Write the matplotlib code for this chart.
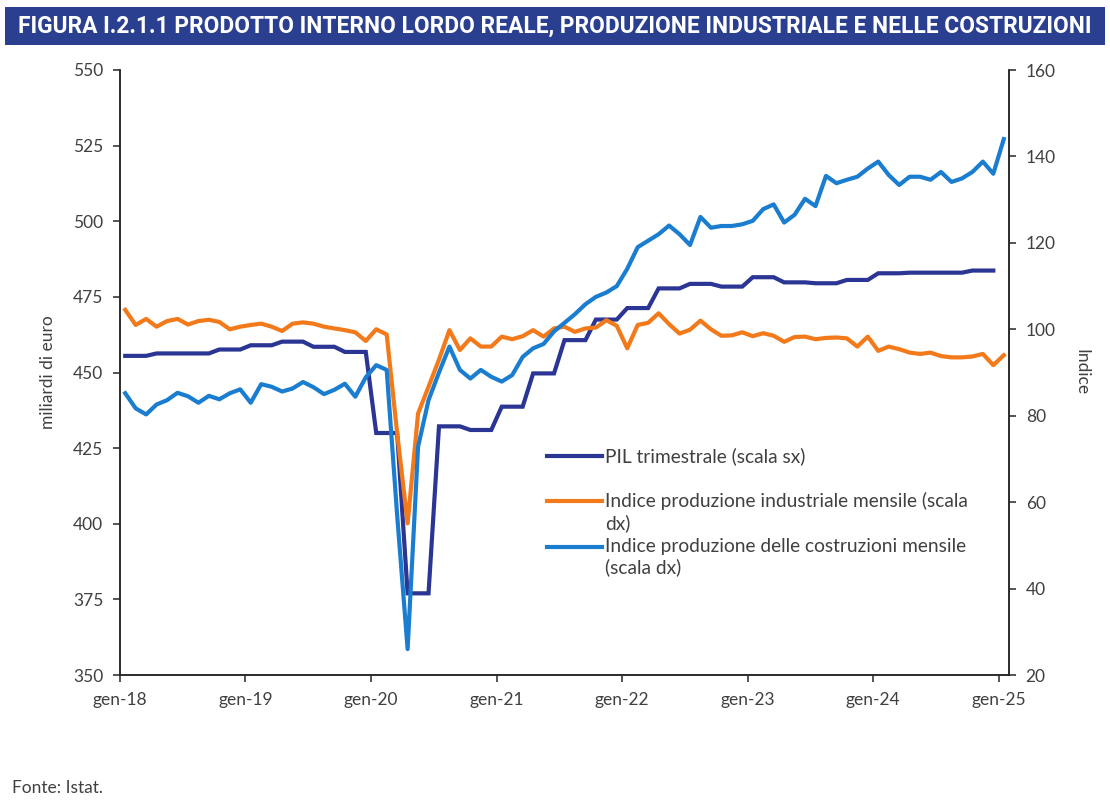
import numpy as np
import matplotlib.pyplot as plt
from matplotlib import font_manager
from matplotlib.patches import Rectangle
from matplotlib.lines import Line2D

# PIL trimestrale (miliardi di euro), 2018Q1 - 2024Q4
pil_trim = [455.5, 456.3, 456.3, 457.6, 459.0, 460.2, 458.5, 456.8,
            430.0, 377.0, 432.2, 431.0, 438.7, 449.7, 460.7, 467.5,
            471.3, 477.8, 479.3, 478.4, 481.5, 479.8, 479.5, 480.6,
            482.8, 483.0, 483.0, 483.7]

# Indice produzione industriale mensile, gen-18 - gen-25
ind_industria = [104.5, 101.0, 102.4, 100.6, 101.9, 102.4, 101.1, 101.9, 102.2, 101.7, 100.0, 100.6,
                 101.0, 101.3, 100.6, 99.6, 101.3, 101.6, 101.3, 100.6, 100.2, 99.8, 99.3, 97.3,
                 100.0, 98.8, 76.0, 55.1, 80.5, 86.7, 93.0, 99.8, 95.2, 97.9, 96.0, 96.0,
                 98.3, 97.7, 98.4, 99.8, 98.3, 100.2, 100.6, 99.4, 100.2, 100.4, 102.1, 100.8,
                 95.6, 101.0, 101.5, 103.7, 101.2, 99.0, 99.9, 102.0, 100.0, 98.5, 98.6, 99.3,
                 98.4, 99.1, 98.5, 97.1, 98.2, 98.3, 97.7, 98.0, 98.1, 97.9, 96.0, 98.3,
                 95.0, 96.0, 95.4, 94.6, 94.3, 94.6, 93.8, 93.5, 93.5, 93.7, 94.3, 91.7,
                 94.0]

# Indice produzione delle costruzioni mensile, gen-18 - gen-25
ind_costruzioni = [85.2, 81.7, 80.3, 82.6, 83.6, 85.3, 84.5, 83.0, 84.6, 83.8, 85.2, 86.1,
                   83.0, 87.3, 86.7, 85.6, 86.3, 87.8, 86.6, 85.0, 86.0, 87.4, 84.4, 88.9,
                   91.7, 90.6, 57.0, 26.0, 72.8, 83.6, 90.0, 96.0, 90.6, 88.6, 90.6, 89.0,
                   87.9, 89.4, 93.6, 95.6, 96.6, 99.5, 101.5, 103.5, 105.8, 107.5, 108.5, 110.0,
                   114.0, 119.0, 120.5, 122.0, 124.0, 122.0, 119.5, 126.0, 123.5, 123.9, 123.9, 124.3,
                   125.1, 127.8, 128.9, 124.7, 126.5, 130.2, 128.5, 135.5, 133.8, 134.6, 135.3, 137.2,
                   138.8, 135.7, 133.4, 135.3, 135.3, 134.6, 136.4, 134.1, 134.9, 136.4, 138.8, 136.0,
                   144.0]

tick_labels = ['gen-18', 'gen-19', 'gen-20', 'gen-21', 'gen-22', 'gen-23', 'gen-24', 'gen-25']

title = 'FIGURA I.2.1.1 PRODOTTO INTERNO LORDO REALE, PRODUZIONE INDUSTRIALE E NELLE COSTRUZIONI'
labels = ['PIL trimestrale (scala sx)',
          'Indice produzione industriale mensile (scala\ndx)',
          'Indice produzione delle costruzioni mensile\n(scala dx)']

NAVY = '#2B3593'
ORANGE = '#F27A1A'
LIGHTBLUE = '#1A7DCF'
TXT = '#404040'
W, H = 1110, 800

installed = {f.name for f in font_manager.fontManager.ttflist}
base_font = 'Lato' if 'Lato' in installed else 'DejaVu Sans'
title_font = 'Liberation Sans Narrow' if 'Liberation Sans Narrow' in installed else 'Roboto'
plt.rcParams['font.family'] = [base_font, 'DejaVu Sans']

# monthly positions, points centred in each month (Excel date axis)
x_month = np.arange(len(ind_industria)) + 0.5
pil_month = np.repeat(pil_trim, 3)
x_pil = x_month[:len(pil_month)]

fig = plt.figure(figsize=(W / 100, H / 100), dpi=100)
ax = fig.add_axes([0.1081, 0.15625, 0.8009, 0.75625])
ax2 = ax.twinx()

l1, = ax.plot(x_pil, pil_month, color=NAVY, lw=3.0, solid_joinstyle='miter')
l2, = ax2.plot(x_month, ind_industria, color=ORANGE, lw=3.0)
l3, = ax2.plot(x_month, ind_costruzioni, color=LIGHTBLUE, lw=3.0)

ax.set_xlim(0, 85)
ax.set_ylim(350, 550)
ax.set_yticks(np.arange(350, 551, 25))
ax2.set_ylim(20, 160)
ax2.set_yticks(np.arange(20, 161, 20))
ax.set_xticks(np.arange(0, 85, 12))
ax.set_xticklabels(tick_labels)

for a in (ax, ax2):
    a.spines['top'].set_visible(False)
    for s in ('left', 'right', 'bottom'):
        a.spines[s].set_color('#262626')
        a.spines[s].set_linewidth(1.1)
    a.tick_params(labelsize=12.5, colors=TXT, length=5, width=1.1, direction='out', pad=7)
    a.tick_params(axis='both', color='#262626')

ax.set_ylabel('miliardi di euro', fontsize=12.5, color=TXT, labelpad=12)
ax2.set_ylabel('Indice', fontsize=12.5, color=TXT, rotation=270, labelpad=24)

# legend laid out like the original (handle level with the first text line)
leg_rows = [456, 501, 547]   # pixel rows of the first text line
for line, lab, yp in zip([l1, l2, l3], labels, leg_rows):
    fy = 1 - yp / H
    fig.add_artist(Line2D([547 / W, 602 / W], [fy, fy], transform=fig.transFigure,
                          color=line.get_color(), lw=3.0))
    fig.text(605 / W, 1 - (yp - 9) / H, lab, ha='left', va='top', fontsize=13.8,
             color=TXT, linespacing=1.25)

# title bar
fig.patches.append(Rectangle((5 / W, 1 - 45 / H), 1100 / W, 38 / H,
                             transform=fig.transFigure, facecolor='#2A3F8F',
                             edgecolor='none', zorder=0))
fig.text(0.5, 1 - 26 / H, title, ha='center', va='center', color='white',
         fontsize=16.4, fontweight='bold', family=[title_font, 'DejaVu Sans'])

fig.text(12 / W, 1 - 788 / H, 'Fonte: Istat.', ha='left', va='center',
         fontsize=12.5, color=TXT)

fig.savefig('out.png', dpi=100)
